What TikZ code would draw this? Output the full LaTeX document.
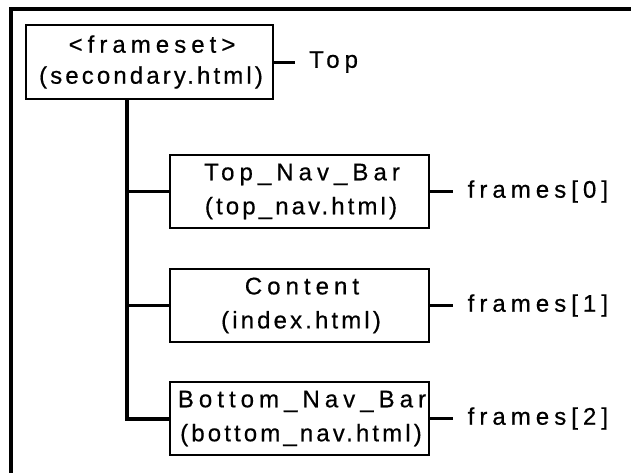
\documentclass[tikz,border=0pt]{standalone}
\usepackage{fontspec}
\setmainfont{Liberation Sans}
\newfontfamily\fwide{Liberation Sans}[LetterSpace=21,FakeBold=0.5]
\newfontfamily\fnarrow{Liberation Sans}[LetterSpace=13,FakeBold=0.5]
\newcommand\Wtxt[1]{{\fwide #1\kern-5pt}}
\newcommand\Ntxt[1]{{\fnarrow #1\kern-3pt}}
\tikzset{
  frbox/.style={draw, line width=2.5pt, minimum width=259pt, minimum height=73pt,
    inner sep=0pt, align=center, font=\fontsize{24}{34}\selectfont},
  lbl/.style={anchor=west, inner ysep=0pt, inner xsep=14.5pt, font=\fontsize{24}{28}\selectfont},
  conn/.style={line width=3pt},
  trunkline/.style={line width=4pt, line join=miter},
  branch/.style={line width=3.5pt}
}
\begin{document}
\begin{tikzpicture}[x=1pt,y=-1pt]
\useasboundingbox (0,0) rectangle (631,472);
\clip (0,0) rectangle (631,472);
\fill[white] (0,0) rectangle (631,472);
% outer frame (open to right and bottom)
\draw[line width=4pt, line join=miter] (11,490) -- (11,9) -- (650,9);
% top box
\node[frbox, minimum width=247pt, minimum height=74pt, font=\fontsize{24}{31}\selectfont] (top) at (149.5,62)
  {\Wtxt{<frameset>}\\\Ntxt{(secondary.html)}};
\node[lbl, inner xsep=14pt] (toplbl) at (295,62) {\Wtxt{Top}};
\draw[conn] (top.east) -- (toplbl.west);
% frame boxes
\node[frbox] (b1) at (299.5,191.5) {\Wtxt{Top\_Nav\_Bar}\\\Ntxt{(top\_nav.html)}};
\node[frbox] (b2) at (299.5,305.5) {\Wtxt{Content}\\\Ntxt{(index.html)}};
\node[frbox] (b3) at (299.5,418.5) {\Wtxt{Bottom\_Nav\_Bar}\\\Ntxt{(bottom\_nav.html)}};
\node[lbl] (l1) at (453,191.5) {\Wtxt{frames[0]}};
\node[lbl] (l2) at (453,305.5) {\Wtxt{frames[1]}};
\node[lbl] (l3) at (453,418.5) {\Wtxt{frames[2]}};
\draw[conn] (b1.east) -- (l1.west);
\draw[conn] (b2.east) -- (l2.west);
\draw[conn] (b3.east) -- (l3.west);
% trunk and branches
\coordinate (t0) at (127,99);
\draw[trunkline] (t0) -- (t0 |- b3.west) -- (b3.west);
\draw[branch] (t0 |- b1.west) -- (b1.west);
\draw[branch] (t0 |- b2.west) -- (b2.west);
\end{tikzpicture}
\end{document}
